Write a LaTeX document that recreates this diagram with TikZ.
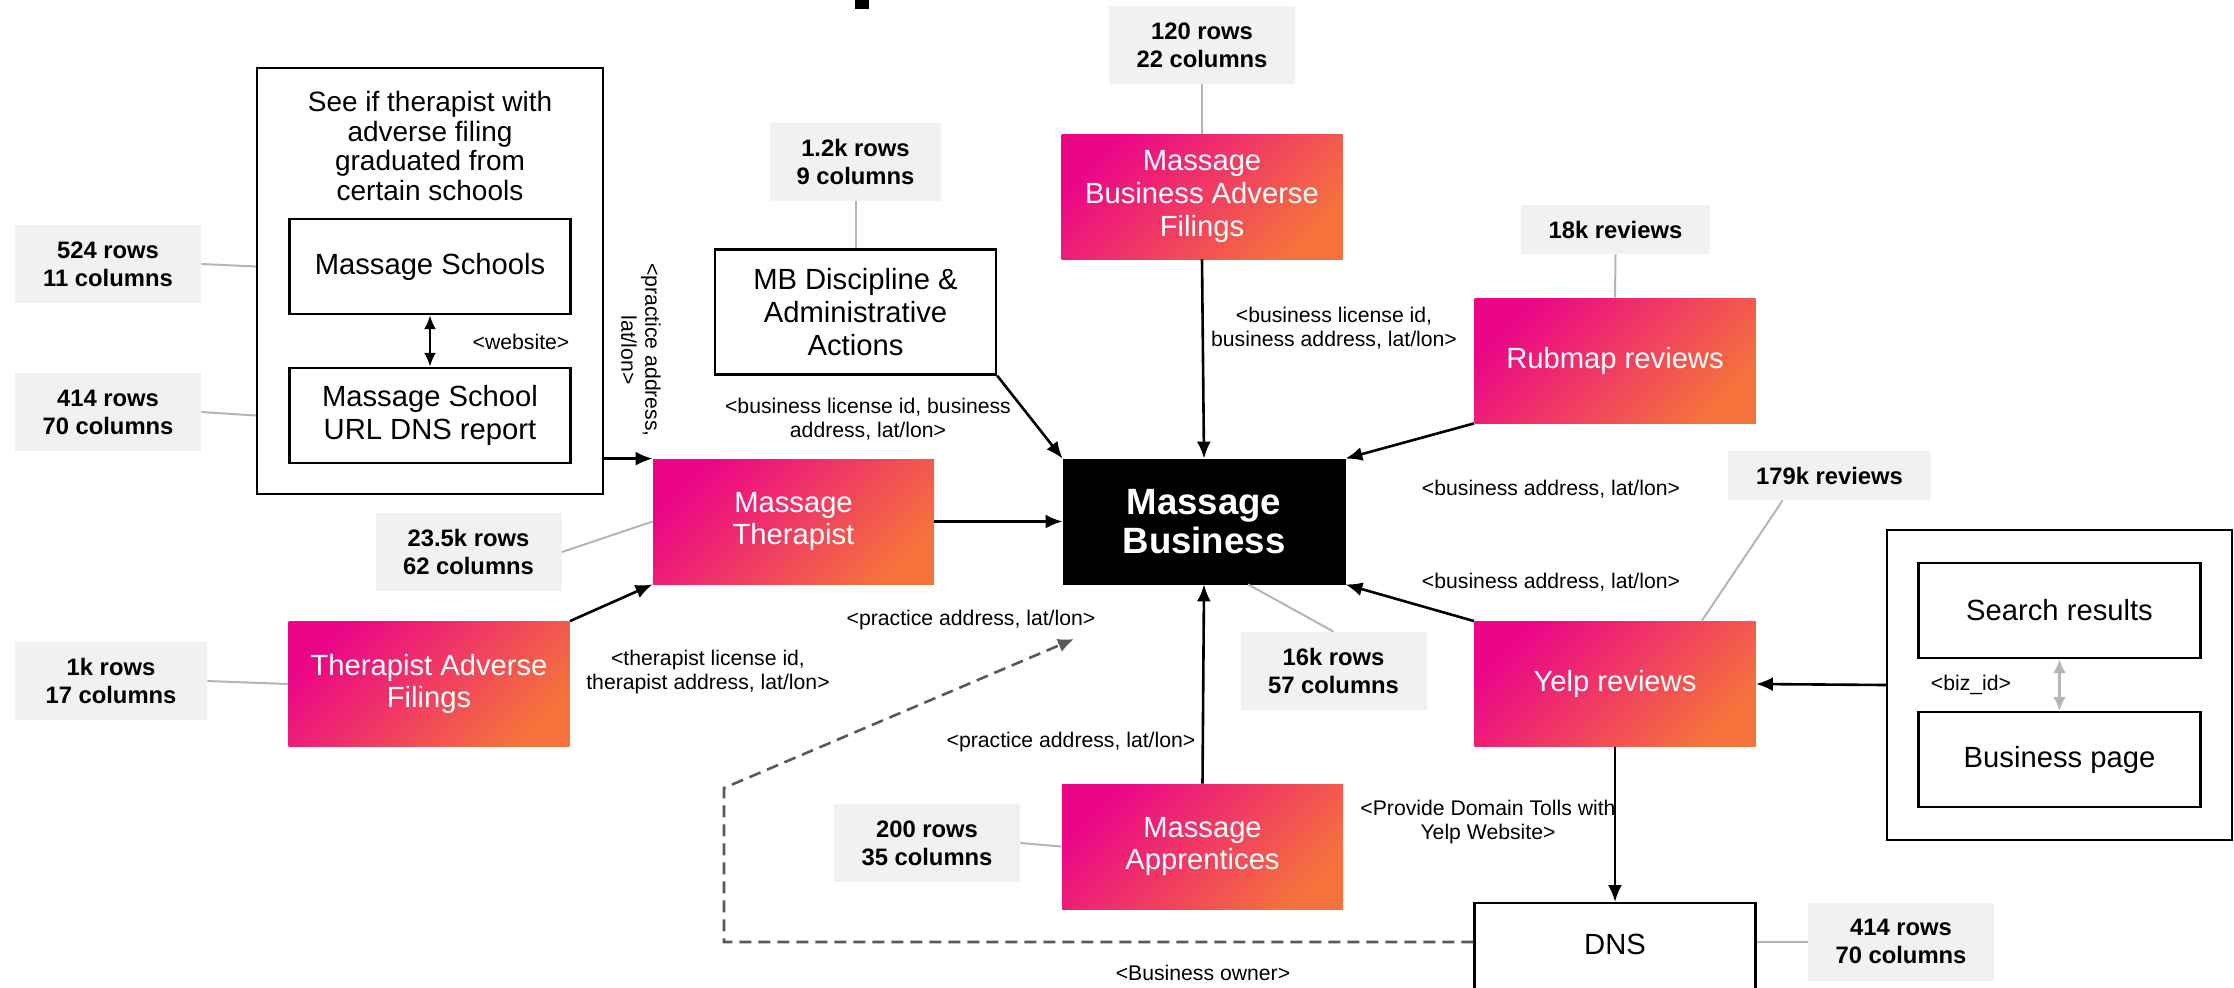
\documentclass[tikz,border=0pt]{standalone}
\usepackage{fontspec}
\setmainfont{Liberation Sans}
\usetikzlibrary{arrows.meta,positioning,shapes}

\definecolor{gmag}{HTML}{EB0589}
\definecolor{gorg}{HTML}{F5723C}
\definecolor{statgray}{HTML}{F1F1F1}
\definecolor{linkgray}{HTML}{B5B5B5}
\definecolor{dashgray}{HTML}{595959}
\pgfdeclarehorizontalshading{pinkorange}{100bp}{color(0bp)=(gmag); color(25bp)=(gmag); color(75bp)=(gorg); color(100bp)=(gorg)}

\tikzset{
  boxfont/.style={font=\fontsize{14.6}{16.3}\selectfont},
  gradbox/.style={boxfont, shade, shading=pinkorange, shading angle=-45, text=white, align=center, minimum width=140.5pt, minimum height=62.5pt, inner sep=0pt},
  plainbox/.style={boxfont, draw, line width=1.2pt, align=center, minimum width=140.5pt, minimum height=62.5pt, inner sep=0pt},
  stat/.style={fill=statgray, font=\bfseries\fontsize{11.9}{14}\selectfont, align=center, minimum width=93pt, minimum height=39pt, inner sep=0pt},
  lbl/.style={font=\fontsize{10.6}{12}\selectfont, align=center, inner sep=0pt},
  link/.style={draw=linkgray, line width=1pt},
  flow/.style={draw, line width=1.3pt, -{Latex[length=8.5pt,width=7pt]}},
}

\begin{document}
\begin{tikzpicture}[x=0.5pt,y=-0.5pt]
  \useasboundingbox (0,0) rectangle (2234,987);
  \fill (855,0) rectangle (869,9);

  % schools group
  \node[draw, line width=1.2pt, minimum width=173pt, minimum height=213pt] (schoolgrp) at (430,281) {};
  \node[font=\fontsize{14}{14.75}\selectfont, align=center] (schooltitle) at (430,146) {See if therapist with\\adverse filing\\graduated from\\certain schools};
  \node[plainbox, minimum height=47.5pt] (schools) at (430,266.5) {Massage Schools};
  \node[plainbox, minimum height=47.5pt] (schoolurl) at (430,415.5) {Massage School\\URL DNS report};
  \node[lbl] (websitelbl) at (521,342) {<website>};
  \node[stat] (s524) at (108,264) {524 rows\\11 columns};
  \node[stat] (s414a) at (108,412) {414 rows\\70 columns};
  \draw[link] (s524.east) -- (schoolgrp.west |- schools);
  \draw[link] (s414a.east) -- (schoolgrp.west |- schoolurl);
  \draw[line width=1.2pt, {Latex[length=7pt,width=6pt]}-{Latex[length=7pt,width=6pt]}] (schools) -- (schoolurl);

  % therapists
  \node[gradbox] (therapist) at (793.5,521.5) {Massage\\Therapist};
  \node[stat] (s235) at (468.5,552) {23.5k rows\\62 columns};
  \node[gradbox] (tadverse) at (429,684) {Therapist Adverse\\Filings};
  \node[stat, minimum width=96pt] (s1k) at (111,681) {1k rows\\17 columns};
  \node[lbl, rotate=-90] (practlbl) at (641,350) {<practice address,\\lat/lon>};
  \node[lbl] (tadvlbl) at (708,672) {<therapist license id,\\therapist address, lat/lon>};
  \draw[flow] (schoolgrp.east |- therapist.north west) -- (therapist.north west);
  \draw[link] (s235.east) -- (therapist.west);
  \draw[link] (s1k.east) -- (tadverse.west);
  \draw[flow] (tadverse.north east) -- (therapist.south west);

  % business
  \node[draw, fill=black, text=white, font=\bfseries\fontsize{18.3}{19.5}\selectfont, align=center, minimum width=141pt, minimum height=62.5pt, inner sep=0pt] (business) at (1204,521.5) {Massage\\Business};
  \node[stat] (s16k) at (1333.5,671) {16k rows\\57 columns};
  \draw[flow] (therapist.east) -- (business.west);
  \draw[link] (s16k.north) -- (business.-55);

  \node[plainbox] (discipline) at (855.5,312) {MB Discipline \&\\Administrative\\Actions};
  \node[stat, minimum width=85.5pt] (s12k) at (855.5,162) {1.2k rows\\9 columns};
  \node[lbl] (disclbl) at (868,419) {<business license id, business\\address, lat/lon>};
  \draw[link] (s12k.south) -- (discipline.north);
  \draw[flow] (discipline.south east) -- (business.north west);

  \node[gradbox] (mbadverse) at (1202,196.5) {Massage\\Business Adverse\\Filings};
  \node[stat] (s120) at (1202,45) {120 rows\\22 columns};
  \node[lbl] (mbadvlbl) at (1334,328) {<business license id,\\business address, lat/lon>};
  \draw[link] (s120.south) -- (mbadverse.north);
  \draw[flow] (mbadverse.south) -- (business.north);

  \node[gradbox] (rubmap) at (1615,360.5) {Rubmap reviews};
  \node[stat, minimum width=94.5pt, minimum height=24.5pt] (s18k) at (1615.5,229.5) {18k reviews};
  \node[lbl] (rubmaplbl) at (1551,489) {<business address, lat/lon>};
  \draw[link] (s18k.south) -- (rubmap.north);
  \draw[flow] (rubmap.south west) -- (business.north east);

  \node[gradbox] (yelp) at (1615,684) {Yelp reviews};
  \node[stat, minimum width=101.5pt, minimum height=24.5pt] (s179k) at (1829.5,475.5) {179k reviews};
  \node[lbl] (yelplbl) at (1551,582) {<business address, lat/lon>};
  \draw[link] (s179k.208) -- (yelp.36);
  \draw[flow] (yelp.north west) -- (business.south east);

  \node[gradbox] (apprentice) at (1202.5,846.5) {Massage\\Apprentices};
  \node[stat] (s200) at (927,843) {200 rows\\35 columns};
  \node[lbl] (applbl) at (1071,742) {<practice address, lat/lon>};
  \draw[link] (s200.east) -- (apprentice.west);
  \draw[flow] (apprentice.north) -- (business.south);

  % yelp pages
  \node[draw, line width=1.2pt, minimum width=172.5pt, minimum height=155pt] (yelpgrp) at (2059.5,685) {};
  \node[plainbox, minimum width=141pt, minimum height=47.5pt] (search) at (2059.5,610.5) {Search results};
  \node[plainbox, minimum width=141pt, minimum height=47.5pt] (bizpage) at (2059.5,759.5) {Business page};
  \node[lbl] (bizidlbl) at (1971,685) {<biz\_id>};
  \draw[draw=linkgray, line width=1.2pt, {Latex[length=7pt,width=6.5pt]}-{Latex[length=7pt,width=6.5pt]}] (search) -- (bizpage);
  \draw[flow] (yelpgrp.west) -- (yelp.east);

  % dns
  \node[plainbox, anchor=north, inner ysep=0pt, text height=25.75pt, text depth=36.75pt] (dns) at (1615,902) {DNS};
  \node[stat] (s414b) at (1901,941.5) {414 rows\\70 columns};
  \node[lbl] (dnslbl) at (1488,822) {<Provide Domain Tolls with\\Yelp Website>};
  \node[lbl] (ownerlbl) at (1203,973) {<Business owner>};
  \node[lbl] (practlbl2) at (971,620) {<practice address, lat/lon>};
  \draw[link] (dns.east |- s414b) -- (s414b.west);
  \draw[flow] (yelp.south) -- (dns.north);

  \coordinate (dcorner) at (724,942);
  \coordinate (dbend) at (724,788);
  \coordinate (dtip) at (1074,639);
  \draw[dashgray, line width=1.3pt, dash pattern=on 6pt off 3.5pt, -{Latex[length=8pt,width=7pt]}] (dcorner -| dns.west) -- (dcorner) -- (dbend) -- (dtip);
\end{tikzpicture}
\end{document}
